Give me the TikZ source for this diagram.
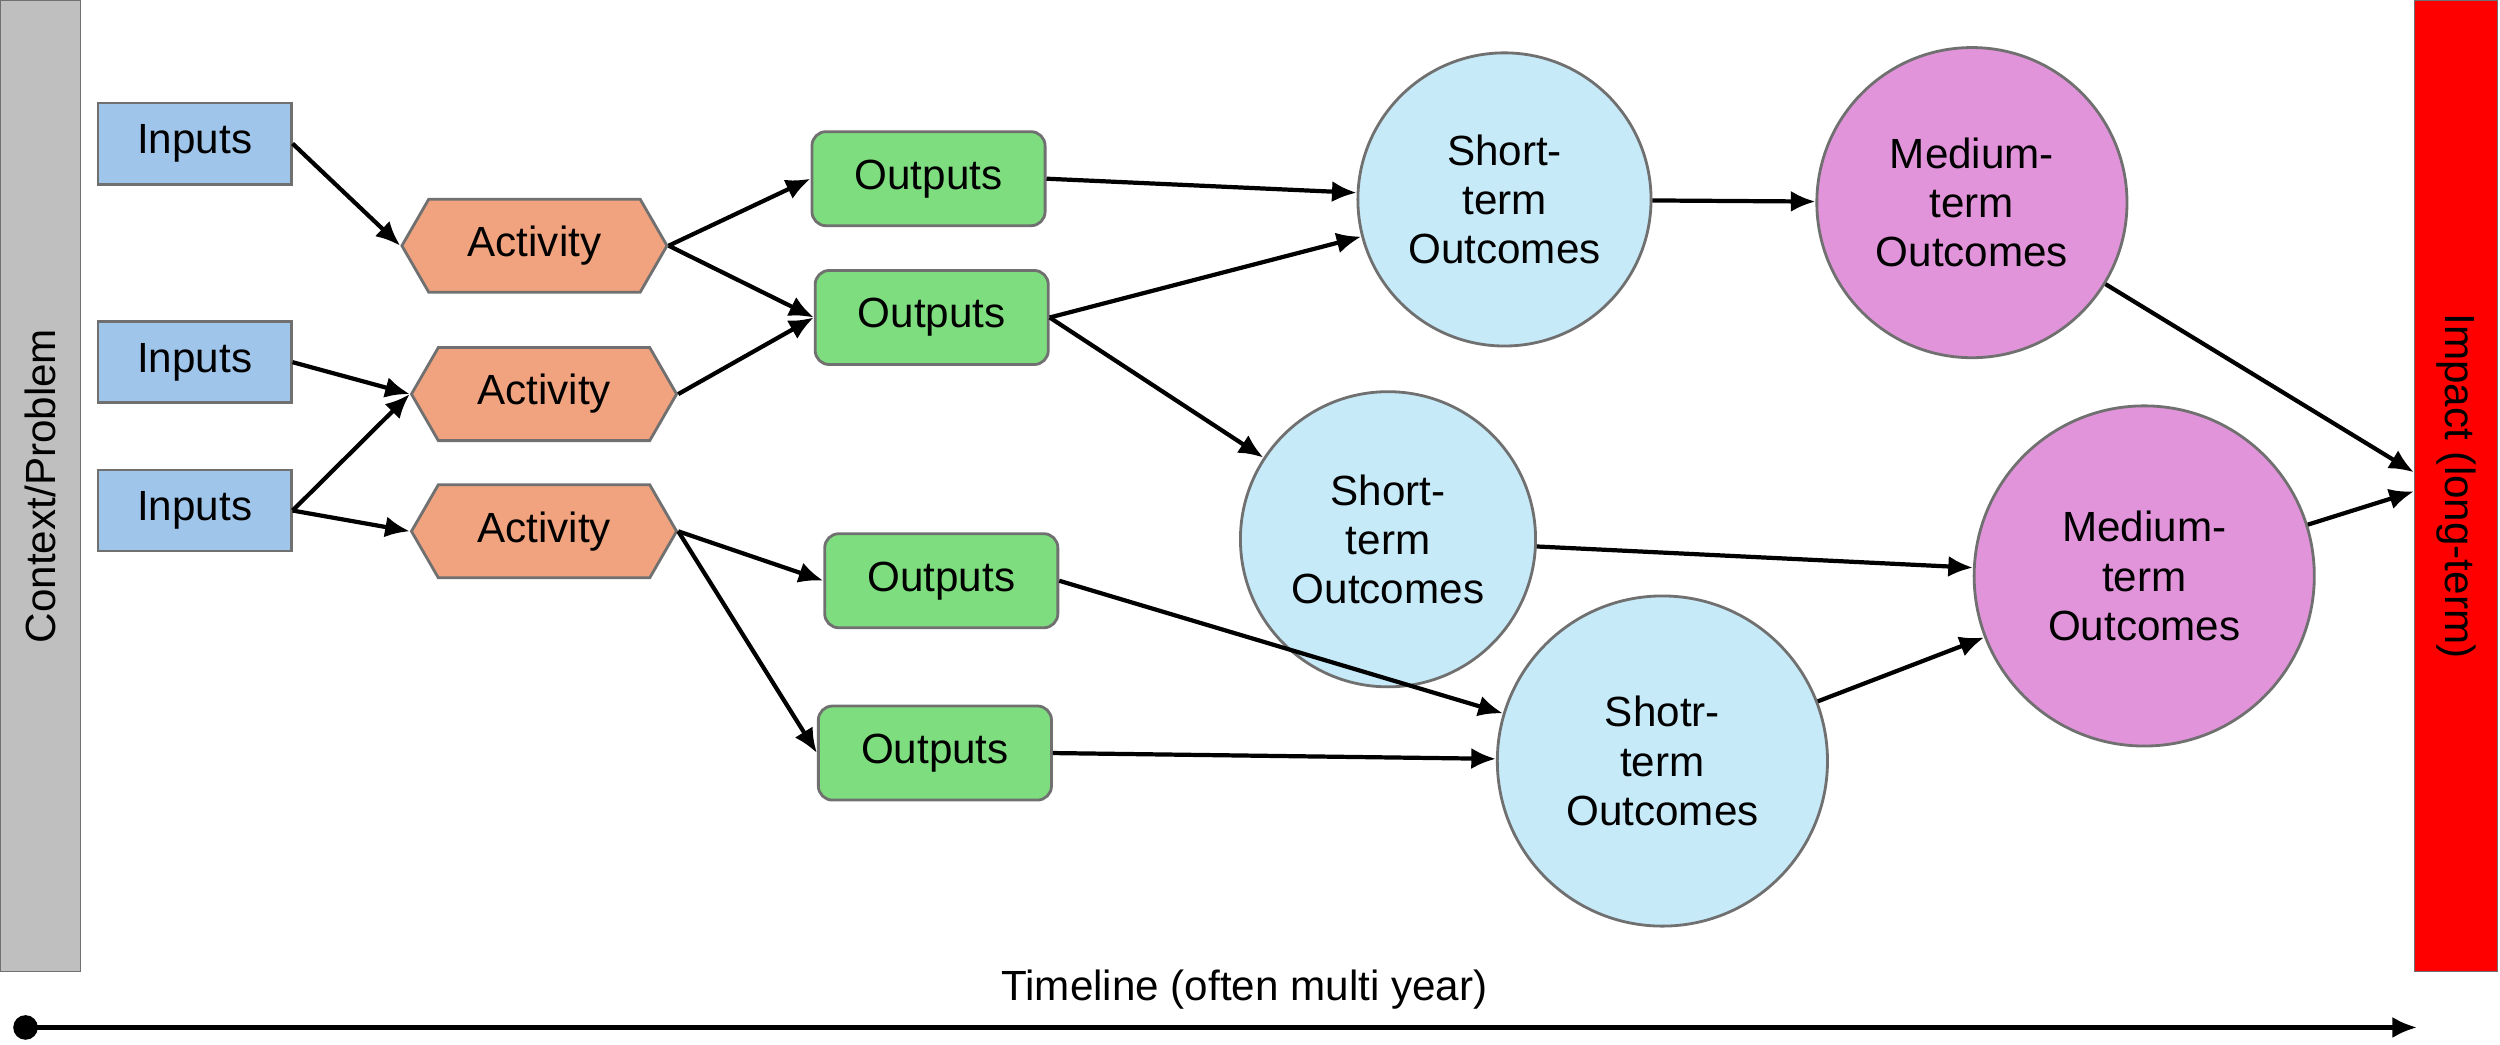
\documentclass[tikz,border=0pt]{standalone}
\usepackage{fontspec}
\setmainfont{Liberation Sans}
\usetikzlibrary{shapes.symbols,arrows.meta}
\definecolor{inp}{HTML}{9FC5EB}
\definecolor{act}{HTML}{F0A37E}
\definecolor{outp}{HTML}{7EDD7E}
\definecolor{sto}{HTML}{C6EAF8}
\definecolor{mto}{HTML}{E194DA}
\definecolor{bord}{HTML}{707070}
\begin{document}
\begin{tikzpicture}[x=0.01595cm,y=-0.01595cm,font=\fontsize{12}{14}\selectfont,
  box/.style={draw=bord,line width=0.8pt,rounded corners=2pt,inner sep=0pt},
  inp/.style={box,fill=inp,rounded corners=0pt,minimum width=121\pgflinewidth*0+1.93cm,minimum height=0.81cm},
  act/.style={draw=bord,line width=0.8pt,fill=act,signal,signal to=east and west,signal pointer angle=120,minimum width=2.65cm,minimum height=0.93cm,inner sep=0pt},
  outp/.style={box,fill=outp,rounded corners=4pt,minimum width=2.33cm,minimum height=0.94cm},
  circ/.style={draw=bord,line width=0.8pt,circle,align=center,inner sep=0pt},
  arr/.style={-{Latex[length=7pt,width=6pt]},line width=1.2pt}]
\useasboundingbox (0,0) rectangle (1567,655);
\node[draw=bord,fill=gray!50,minimum width=0.8cm,minimum height=9.7cm,inner sep=0pt,anchor=north west] (ctx) at (0,0) {};
\node[rotate=90] at (ctx.center) {Context/Problem};
\node[draw=bord,fill=red,minimum width=0.83cm,minimum height=9.7cm,inner sep=0pt,anchor=north west] (imp) at (1513,0) {};
\node[rotate=-90] at (imp.center) {Impact (long-term)};
\coordinate (i1) at (1513,296);
\coordinate (i2) at (1513,308);
\node[inp] (in1) at (122,90) {Inputs};
\node[inp] (in2) at (122,227) {Inputs};
\node[inp] (in3) at (122,320) {Inputs};
\node[act] (a1) at (335,154) {Activity};
\node[act] (a2) at (341,247) {Activity};
\node[act] (a3) at (341,333) {Activity};
\node[outp] (o1) at (582,112) {Outputs};
\node[outp] (o2) at (584,199) {Outputs};
\node[outp] (o3) at (590,364) {Outputs};
\node[outp] (o4) at (586,472) {Outputs};
\node[circ,fill=sto,minimum size=2.93cm] (s1) at (943,125) {Short-\\term\\Outcomes};
\node[circ,fill=sto,minimum size=2.95cm] (s2) at (870,338) {Short-\\term\\Outcomes};
\node[circ,fill=sto,minimum size=3.3cm] (s3) at (1042,477) {Shotr-\\term\\Outcomes};
\node[circ,fill=mto,minimum size=3.1cm] (m1) at (1236,127) {Medium-\\term\\Outcomes};
\node[circ,fill=mto,minimum size=3.4cm] (m2) at (1344,361) {Medium-\\term\\Outcomes};
\draw[arr] (in1.east) -- (a1.west);
\draw[arr] (in2.east) -- (a2.west);
\draw[arr] (in3.east) -- (a2.west);
\draw[arr] (in3.east) -- (a3.west);
\draw[arr] (a1.east) -- (o1.west);
\draw[arr] (a1.east) -- (o2.west);
\draw[arr] (a2.east) -- (o2.west);
\draw[arr] (a3.east) -- (o3.west);
\draw[arr] (a3.east) -- (o4.west);
\draw[arr] (o1.east) -- (s1);
\draw[arr] (o2.east) -- (s1);
\draw[arr] (o2.east) -- (s2);
\draw[arr] (o3.east) -- (s3);
\draw[arr] (o4.east) -- (s3);
\draw[arr] (s1) -- (m1);
\draw[arr] (s2) -- (m2);
\draw[arr] (s3) -- (m2);
\draw[arr] (m1) -- (i1);
\draw[arr] (m2) -- (i2);
\node (tl) at (780,620) {Timeline (often multi year)};
\fill (16,644) circle (3.5pt) coordinate (t0);
\coordinate (t1) at (1515,644);
\draw[arr] (t0) -- (t1);
\end{tikzpicture}
\end{document}
